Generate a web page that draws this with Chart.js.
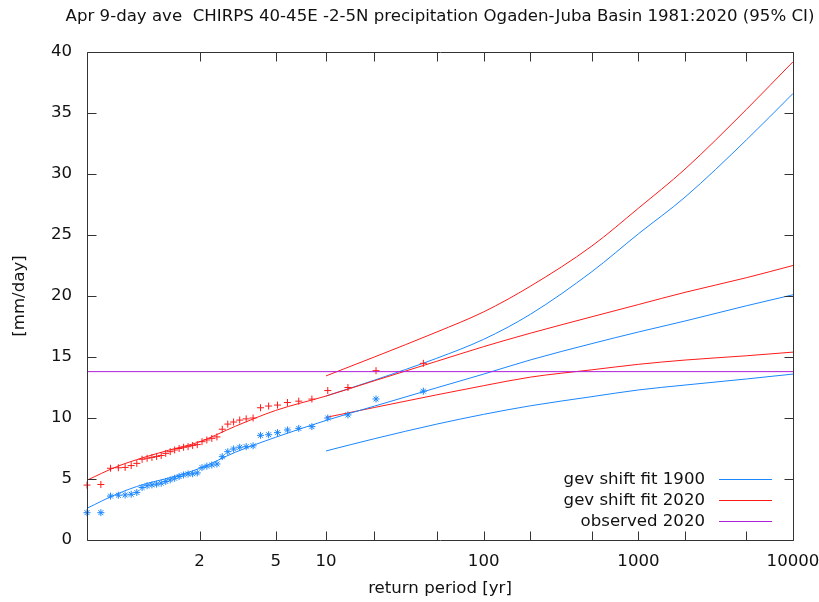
<!DOCTYPE html>
<html><head><meta charset="utf-8">
<script src="https://cdn.jsdelivr.net/npm/chart.js@4.4.1/dist/chart.umd.min.js"></script>
<style>html,body{margin:0;padding:0;background:#fff}#wrap{width:819px;height:602px}</style>
</head><body><div id="wrap"><canvas id="c" width="819" height="602"></canvas></div>
<script>
const chartTitle = 'Apr 9-day ave  CHIRPS 40-45E -2-5N precipitation Ogaden-Juba Basin 1981:2020 (95% CI)';
const xTitle = 'return period [yr]';
const yTitle = '[mm/day]';

// observations shifted to 2020 / 1900 climate, sorted by rank (largest first)
const shifted2020 = [14.48, 13.88, 12.5, 12.25, 11.55, 11.38, 11.27, 11.06, 10.98, 10.84,
  10.0, 9.93, 9.83, 9.67, 9.5, 9.08, 8.45, 8.33, 8.2, 8.06,
  7.82, 7.75, 7.65, 7.6, 7.5, 7.38, 7.24, 7.1, 6.93, 6.85,
  6.77, 6.7, 6.62, 6.28, 6.1, 5.95, 5.92, 5.88, 4.55, 4.5];
const shifted1900 = [12.2, 11.56, 10.25, 10.0, 9.29, 9.15, 9.02, 8.8, 8.63, 8.58,
  7.72, 7.65, 7.6, 7.46, 7.24, 6.83, 6.23, 6.15, 6.05, 5.93,
  5.5, 5.43, 5.41, 5.33, 5.2, 5.06, 4.93, 4.8, 4.66, 4.58,
  4.52, 4.45, 4.3, 3.9, 3.75, 3.69, 3.67, 3.6, 2.24, 2.24];
const nYears = 40;

// fitted return level curves
const fitPeriods = [1.025, 1.1, 1.25, 1.5, 2, 3, 5, 10, 20, 50, 100, 200, 500, 1000, 2000, 5000, 10000];
const fit2020 = [4.9, 6.0, 6.75, 7.36, 8.05, 9.33, 10.62, 11.8, 13.05, 14.65, 15.85, 16.95, 18.3, 19.3, 20.3, 21.5, 22.5];
const fit1900 = [2.6, 3.75, 4.55, 5.08, 5.87, 7.2, 8.42, 9.8, 10.97, 12.48, 13.6, 14.76, 16.1, 17.05, 17.95, 19.2, 20.1];
const ciPeriods = [10, 20, 50, 100, 200, 500, 1000, 2000, 5000, 10000];
const upper2020 = [13.45, 15.0, 17.05, 18.7, 20.8, 24.1, 27.2, 30.4, 35.3, 39.2];
const lower2020 = [10.05, 10.86, 11.9, 12.65, 13.35, 13.95, 14.4, 14.75, 15.1, 15.4];
const upper1900 = [11.8, 13.1, 14.9, 16.45, 18.5, 22.0, 25.1, 28.1, 32.8, 36.6];
const lower1900 = [7.3, 8.3, 9.5, 10.3, 11.0, 11.75, 12.3, 12.7, 13.2, 13.6];
const observed2020 = 13.8;

const xTickPeriods = [2, 5, 10, 20, 50, 100, 200, 500, 1000, 2000, 5000, 10000];
const xTickLabels = ['2', '5', '10', '', '', '100', '', '', '1000', '', '', '10000'];
const yTickValues = [0, 5, 10, 15, 20, 25, 30, 35, 40];

const BLUE = '#1a86ff', RED = '#ff1a1a', PURPLE = '#b01ed8';
const FONT = '"DejaVu Sans", sans-serif', FS = 16.6;
const gumbel = T => -Math.log(-Math.log(1 - 1 / T));
const xMin = gumbel((nYears + 1) / nYears), xMax = gumbel(10000);
const pts = (Ts, ys) => Ts.map((T, i) => ({x: gumbel(T), y: ys[i]}));
const rankPeriods = shifted2020.map((_, i) => (nYears + 1) / (i + 1));

const legendEntries = [
  {label: 'gev shift fit 1900', color: BLUE},
  {label: 'gev shift fit 2020', color: RED},
  {label: 'observed 2020', color: PURPLE}
];

const lineDs = (label, Ts, ys, color) => ({
  label, data: pts(Ts, ys), borderColor: color, backgroundColor: color, borderWidth: 1,
  showLine: true, pointRadius: 0, cubicInterpolationMode: 'monotone', order: 3, clip: false
});

const datasets = [
  lineDs(legendEntries[0].label, fitPeriods, fit1900, BLUE),
  lineDs(legendEntries[1].label, fitPeriods, fit2020, RED),
  lineDs('upper 1900', ciPeriods, upper1900, BLUE),
  lineDs('lower 1900', ciPeriods, lower1900, BLUE),
  lineDs('upper 2020', ciPeriods, upper2020, RED),
  lineDs('lower 2020', ciPeriods, lower2020, RED),
  {label: 'obs 2020 shifted', data: pts(rankPeriods, shifted2020), showLine: false, pointStyle: 'cross',
   pointRadius: 3.5, borderColor: RED, backgroundColor: RED, pointBorderWidth: 1, order: 2, clip: false},
  {label: 'obs 1900 shifted', data: pts(rankPeriods, shifted1900), showLine: false, pointStyle: 'star',
   pointRadius: 3.5, borderColor: BLUE, backgroundColor: BLUE, pointBorderWidth: 1, order: 2, clip: false},
  {label: legendEntries[2].label, data: [{x: xMin, y: observed2020}, {x: xMax, y: observed2020}], showLine: true,
   pointRadius: 0, borderColor: PURPLE, backgroundColor: PURPLE, borderWidth: 1, order: 1}
];

const framePlugin = {
  id: 'frame',
  afterDraw(chart) {
    const {ctx, chartArea: a, scales: {x, y}} = chart;
    ctx.save();
    ctx.font = FS + 'px ' + FONT;
    ctx.fillStyle = '#111';
    ctx.textAlign = 'center';
    ctx.textBaseline = 'middle';
    ctx.fillText(chartTitle, (a.left + a.right) / 2, 17);
    ctx.strokeStyle = '#333';
    ctx.lineWidth = 1;
    ctx.beginPath();
    const L = Math.round(a.left) + 0.5, R = Math.round(a.right) + 0.5, T = Math.round(a.top) + 0.5, B = Math.round(a.bottom) + 0.5;
    ctx.rect(L, T, R - L, B - T);
    const tl = 9;
    xTickPeriods.forEach(p => {
      const px = Math.round(x.getPixelForValue(gumbel(p))) + 0.5;
      ctx.moveTo(px, B); ctx.lineTo(px, B - tl);
      ctx.moveTo(px, T); ctx.lineTo(px, T + tl);
    });
    yTickValues.forEach(v => {
      const py = Math.round(y.getPixelForValue(v)) + 0.5;
      ctx.moveTo(L, py); ctx.lineTo(L + tl, py);
      ctx.moveTo(R, py); ctx.lineTo(R - tl, py);
    });
    ctx.stroke();
    ctx.textAlign = 'right';
    legendEntries.forEach((e, i) => {
      const ry = Math.round(a.bottom - 61 + i * 21) + 0.5;
      ctx.fillStyle = '#111';
      ctx.fillText(e.label, a.right - 88, ry);
      ctx.beginPath();
      ctx.strokeStyle = e.color;
      ctx.lineWidth = 1;
      ctx.moveTo(a.right - 74, ry); ctx.lineTo(a.right - 21, ry);
      ctx.stroke();
    });
    ctx.restore();
  }
};

Chart.defaults.font.family = FONT;
Chart.defaults.font.size = FS;
Chart.defaults.color = '#111';

const zeroPad = s => { s.paddingLeft = 0; s.paddingRight = 0; s.paddingTop = 0; s.paddingBottom = 0; };

new Chart(document.getElementById('c'), {
  type: 'scatter',
  data: {datasets},
  options: {
    responsive: false, animation: false, devicePixelRatio: 1,
    layout: {padding: {left: 0, right: 26, top: 52, bottom: 0}},
    plugins: {legend: {display: false}, tooltip: {enabled: false}, title: {display: false}},
    scales: {
      x: {
        type: 'linear', min: xMin, max: xMax,
        grid: {display: false, drawTicks: false}, border: {display: false},
        afterBuildTicks: s => { s.ticks = xTickPeriods.map(p => ({value: gumbel(p)})); },
        afterFit: s => { s.height = 62; zeroPad(s); },
        ticks: {autoSkip: false, maxRotation: 0, padding: 12, callback: (v, i) => xTickLabels[i]},
        title: {display: true, text: xTitle, padding: {top: 0, bottom: 3}}
      },
      y: {
        type: 'linear', min: 0, max: 40,
        grid: {display: false, drawTicks: false}, border: {display: false},
        afterBuildTicks: s => { s.ticks = yTickValues.map(v => ({value: v})); },
        afterFit: s => { s.width = 87; zeroPad(s); },
        ticks: {padding: 15},
        title: {display: true, text: yTitle, padding: {top: 10, bottom: 0}}
      }
    }
  },
  plugins: [framePlugin]
});
</script></body></html>
